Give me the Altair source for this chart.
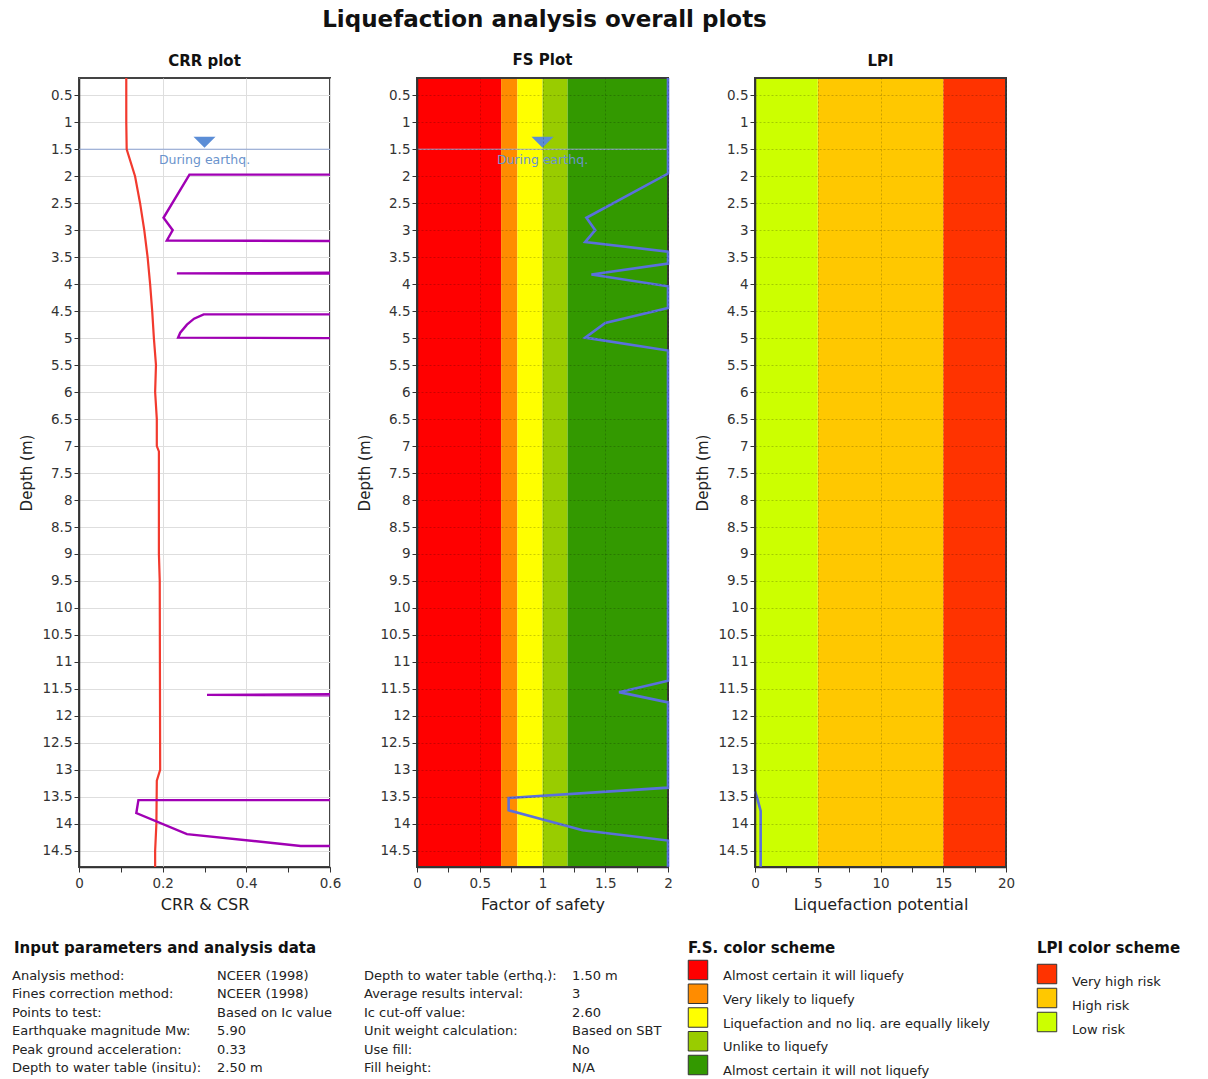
import altair as alt
import pandas as pd

FONT = "DejaVu Sans"

# ---------------- data ----------------
depth_ticks = [0.5, 1, 1.5, 2, 2.5, 3, 3.5, 4, 4.5, 5, 5.5, 6, 6.5, 7, 7.5, 8, 8.5,
               9, 9.5, 10, 10.5, 11, 11.5, 12, 12.5, 13, 13.5, 14, 14.5]
depth_domain = [0.18, 14.8]

# CSR (red line, CRR plot)
csr_depth = [0.18, 1.0, 1.5, 2.0, 2.5, 3.0, 3.5, 4.0, 4.5, 5.0, 5.5, 6.0, 6.5, 7.0,
             7.1, 9.0, 9.5, 13.0, 13.2, 14.0, 14.5, 14.8]
csr_value = [0.113, 0.113, 0.114, 0.134, 0.146, 0.156, 0.164, 0.170, 0.175, 0.179,
             0.184, 0.182, 0.186, 0.186, 0.191, 0.191, 0.193, 0.194, 0.186, 0.185,
             0.182, 0.182]

# CRR (purple line): visible pieces, each entering/leaving at the 0.6 edge
crr_segment = [1, 1, 1, 1, 1, 1,
               2, 2, 2,
               3, 3, 3, 3, 3, 3, 3,
               4, 4, 4,
               5, 5, 5, 5, 5, 5]
crr_depth = [1.97, 1.97, 2.77, 3.00, 3.19, 3.20,
             3.79, 3.80, 3.81,
             4.56, 4.56, 4.64, 4.75, 4.90, 4.99, 5.00,
             11.60, 11.61, 11.62,
             13.56, 13.56, 13.80, 14.19, 14.41, 14.41]
crr_value = [0.60, 0.264, 0.202, 0.224, 0.210, 0.60,
             0.60, 0.234, 0.60,
             0.60, 0.298, 0.275, 0.258, 0.242, 0.237, 0.60,
             0.60, 0.306, 0.60,
             0.60, 0.142, 0.137, 0.258, 0.530, 0.60]

# Factor of safety (blue line, capped at 2)
fs_depth = [0.18, 1.95, 2.77, 3.00, 3.22, 3.40, 3.62, 3.82, 4.04, 4.44, 4.72, 4.99,
            5.23, 11.35, 11.56, 11.75, 13.33, 13.52, 13.75, 14.12, 14.31, 14.80]
fs_value = [2, 2, 1.35, 1.42, 1.34, 2, 2, 1.39, 2, 2, 1.50, 1.34, 2, 2, 1.61, 2, 2,
            0.73, 0.73, 1.32, 2, 2]

# Liquefaction potential index (zero above 13.4 m)
lpi_depth = [13.40, 13.50, 13.76, 14.80]
lpi_value = [0, 0.15, 0.45, 0.45]

water_table_depth = [1.5]
water_label = ["During earthq."]
crr_marker_x = [0.3]
fs_marker_x = [1.0]

crr_ticks = [0, 0.1, 0.2, 0.3, 0.4, 0.5, 0.6]
crr_major = [0, 0.2, 0.4, 0.6]
fs_ticks = [0, 0.25, 0.5, 0.75, 1, 1.25, 1.5, 1.75, 2]
fs_major = [0, 0.5, 1, 1.5, 2]
lpi_ticks = [0, 2.5, 5, 7.5, 10, 12.5, 15, 17.5, 20]
lpi_major = [0, 5, 10, 15, 20]

fs_classes = ["Almost certain it will liquefy", "Very likely to liquefy",
              "Liquefaction and no liq. are equally likely", "Unlike to liquefy",
              "Almost certain it will not liquefy"]
fs_lo = [0, 0.67, 0.8, 1.0, 1.2]
fs_hi = [0.67, 0.8, 1.0, 1.2, 2.0]
fs_colors = ["#ff0000", "#ff8c00", "#ffff00", "#99cc00", "#339900"]

lpi_classes = ["Very high risk", "High risk", "Low risk"]
lpi_lo = [15, 5, 0]
lpi_hi = [20, 15, 5]
lpi_colors = ["#ff3300", "#ffc800", "#ccff00"]

param_names_1 = ["Analysis method:", "Fines correction method:", "Points to test:",
                 "Earthquake magnitude Mw:", "Peak ground acceleration:",
                 "Depth to water table (insitu):"]
param_values_1 = ["NCEER (1998)", "NCEER (1998)", "Based on Ic value", "5.90", "0.33",
                  "2.50 m"]
param_names_2 = ["Depth to water table (erthq.):", "Average results interval:",
                 "Ic cut-off value:", "Unit weight calculation:", "Use fill:",
                 "Fill height:"]
param_values_2 = ["1.50 m", "3", "2.60", "Based on SBT", "No", "N/A"]

# ---------------- styling helpers ----------------
PLOT_W, PLOT_H = 251, 789
TRI = "M-1,-0.5L1,-0.5L0,0.5Z"
LABEL_SIZE = 13.5

yscale = alt.Scale(domain=depth_domain, reverse=True, nice=False, zero=False)


def y_axis(on_top):
    kw = dict(gridColor="#000000", gridOpacity=0.2, gridDash=[2, 2], zindex=1) if on_top \
        else dict(gridColor="#dedede", gridOpacity=1)
    return alt.Axis(values=depth_ticks, format="~g", title="Depth (m)", grid=True,
                    labelFont=FONT, labelFontSize=LABEL_SIZE, labelColor="#333",
                    titleFont=FONT, titleFontSize=15, titleFontWeight="normal",
                    titleColor="#222", titlePadding=7, tickColor="#333", tickSize=5,
                    domainColor="#333", domainWidth=1.5, labelPadding=2, **kw)


def x_axis(title, ticks, major, on_top):
    test = f"indexof({major}, datum.value) >= 0"
    kw = dict(gridColor="#000000", gridDash=[2, 2], zindex=1,
              gridOpacity={"condition": {"test": test, "value": 0.2}, "value": 0}) if on_top \
        else dict(gridColor="#dedede",
                  gridOpacity={"condition": {"test": test, "value": 1}, "value": 0})
    return alt.Axis(values=ticks, title=title, grid=True, labelFlush=False,
                    labelExpr=f"{test} ? format(datum.value, '~g') : ''",
                    labelFont=FONT, labelFontSize=LABEL_SIZE, labelColor="#333",
                    titleFont=FONT, titleFontSize=16, titleFontWeight="normal",
                    titleColor="#222", titlePadding=7, tickColor="#333", tickSize=5,
                    domainColor="#333", domainWidth=1.5, labelPadding=4, **kw)


def panel_title(text, dy=0):
    return alt.Title(text, font=FONT, fontSize=15, fontWeight="bold", color="#111",
                     offset=5, dy=dy)


view_box = alt.ViewBackground(stroke="#444", strokeWidth=2)


def frame():
    return alt.Chart(pd.DataFrame({"f": [0]})).mark_rect(
        filled=False, stroke="#3a3a3a", strokeWidth=2).encode(
        x=alt.value(0), x2=alt.value("width"), y=alt.value(0), y2=alt.value("height"))


# ---------------- CRR plot ----------------
crr_xs = alt.Scale(domain=[0, 0.6], nice=False, zero=False)
crr_xa = x_axis("CRR & CSR", crr_ticks, crr_major, False)
crr_ya = y_axis(False)
X_crr = alt.X("x:Q", scale=crr_xs, axis=crr_xa)
Y_crr = alt.Y("depth:Q", scale=yscale, axis=crr_ya)

csr_df = pd.DataFrame({"depth": csr_depth, "x": csr_value})
crr_df = pd.DataFrame({"seg": crr_segment, "depth": crr_depth, "x": crr_value,
                       "i": list(range(len(crr_depth)))})
wt_crr_df = pd.DataFrame({"depth": water_table_depth, "x": crr_marker_x,
                          "label": water_label})

csr_line = alt.Chart(csr_df).mark_line(color="#f23a2e", strokeWidth=2.2).encode(
    x=X_crr, y=Y_crr, order=alt.Order("depth:Q"))
crr_line = alt.Chart(crr_df).mark_line(color="#a000b4", strokeWidth=2.4).encode(
    x=X_crr, y=Y_crr, detail="seg:N", order=alt.Order("i:Q"))
wt_rule_crr = alt.Chart(wt_crr_df).mark_rule(color="#8ea5d6", strokeWidth=1).encode(y=Y_crr)
wt_tri_crr = alt.Chart(wt_crr_df).mark_point(shape=TRI, filled=True, size=484, opacity=1,
                                             color="#5b8dd6", yOffset=-7).encode(x=X_crr, y=Y_crr)
wt_txt_crr = alt.Chart(wt_crr_df).mark_text(dy=11, font=FONT, fontSize=12.5,
                                            color="#6a93cc").encode(x=X_crr, y=Y_crr, text="label:N")

crr_panel = alt.layer(wt_rule_crr, csr_line, crr_line, wt_tri_crr, wt_txt_crr).properties(
    width=PLOT_W, height=PLOT_H, title=panel_title("CRR plot"), view=view_box)

# ---------------- FS plot ----------------
fs_xs = alt.Scale(domain=[0, 2], nice=False, zero=False)
fs_xa = x_axis("Factor of safety", fs_ticks, fs_major, True)
fs_ya = y_axis(True)
X_fs = alt.X("x:Q", scale=fs_xs, axis=fs_xa)
Y_fs = alt.Y("depth:Q", scale=yscale, axis=fs_ya)

fs_band_df = pd.DataFrame({"x": fs_lo, "x2": fs_hi, "cls": fs_classes})
fs_df = pd.DataFrame({"depth": fs_depth, "x": fs_value})
wt_fs_df = pd.DataFrame({"depth": water_table_depth, "x": fs_marker_x, "label": water_label})

fs_bands = alt.Chart(fs_band_df).mark_rect().encode(
    x=X_fs, x2="x2:Q",
    color=alt.Color("cls:N", scale=alt.Scale(domain=fs_classes, range=fs_colors), legend=None))
fs_line = alt.Chart(fs_df).mark_line(color="#5a70dc", strokeWidth=2.6).encode(
    x=X_fs, y=Y_fs, order=alt.Order("depth:Q"))
wt_rule_fs = alt.Chart(wt_fs_df).mark_rule(color="#9fb3e0", strokeWidth=1).encode(y=Y_fs)
wt_tri_fs = alt.Chart(wt_fs_df).mark_point(shape=TRI, filled=True, size=484, opacity=1,
                                           color="#5b8dd6", yOffset=-7).encode(x=X_fs, y=Y_fs)
wt_txt_fs = alt.Chart(wt_fs_df).mark_text(dy=11, font=FONT, fontSize=12.5,
                                          color="#6a93cc").encode(x=X_fs, y=Y_fs, text="label:N")

fs_panel = alt.layer(fs_bands, frame(), wt_rule_fs, fs_line, wt_tri_fs, wt_txt_fs).properties(
    width=PLOT_W, height=PLOT_H, title=panel_title("FS Plot"), view=view_box)

# ---------------- LPI plot ----------------
lpi_xs = alt.Scale(domain=[0, 20], nice=False, zero=False)
lpi_xa = x_axis("Liquefaction potential", lpi_ticks, lpi_major, True)
lpi_ya = y_axis(True)
X_lpi = alt.X("x:Q", scale=lpi_xs, axis=lpi_xa)
Y_lpi = alt.Y("depth:Q", scale=yscale, axis=lpi_ya)

lpi_band_df = pd.DataFrame({"x": lpi_lo, "x2": lpi_hi, "cls": lpi_classes})
lpi_df = pd.DataFrame({"depth": lpi_depth, "x": lpi_value})

lpi_bands = alt.Chart(lpi_band_df).mark_rect().encode(
    x=X_lpi, x2="x2:Q",
    color=alt.Color("cls:N", scale=alt.Scale(domain=lpi_classes, range=lpi_colors), legend=None))
lpi_line = alt.Chart(lpi_df).mark_line(color="#5a70dc", strokeWidth=2.6).encode(
    x=X_lpi, y=Y_lpi, order=alt.Order("depth:Q"))

lpi_panel = alt.layer(lpi_bands, frame(), lpi_line).properties(
    width=PLOT_W, height=PLOT_H, title=panel_title("LPI", dy=-3), view=view_box)

top_row = alt.hconcat(crr_panel, fs_panel, lpi_panel, spacing=87, bounds="flush").resolve_scale(
    color="independent")

# ---------------- bottom: parameters ----------------
params_df = pd.DataFrame({"row": list(range(6)), "n1": param_names_1, "v1": param_values_1,
                          "n2": param_names_2, "v2": param_values_2})
prow = alt.Scale(type="point", domain=list(range(6)), range=[35, 127], padding=0)


def heading(text, xpos=0):
    return alt.Chart(pd.DataFrame({"t": [text]})).mark_text(
        align="left", baseline="top", font=FONT, fontWeight="bold", fontSize=15,
        color="#111").encode(x=alt.value(xpos), y=alt.value(0), text="t:N")


# the parameter table starts left of the plot origin, under the depth axis
param_layers = [heading("Input parameters and analysis data", -65)]
for field, xpos in [("n1", -67), ("v1", 138), ("n2", 285), ("v2", 493)]:
    param_layers.append(alt.Chart(params_df).mark_text(
        align="left", baseline="middle", font=FONT, fontSize=13, color="#222").encode(
        x=alt.value(xpos), y=alt.Y("row:O", scale=prow, axis=None), text=f"{field}:N"))
params_panel = alt.layer(*param_layers).properties(width=595, height=130)

# ---------------- bottom: F.S. colour scheme ----------------
fsleg_df = pd.DataFrame({"row": list(range(5)), "cls": fs_classes})
frow = alt.Scale(type="point", domain=list(range(5)), range=[29, 124], padding=0)
fs_sq = alt.Chart(fsleg_df).mark_square(size=380, opacity=1, stroke="#333",
                                        strokeWidth=1).encode(
    x=alt.value(10), y=alt.Y("row:O", scale=frow, axis=None),
    color=alt.Color("cls:N", scale=alt.Scale(domain=fs_classes, range=fs_colors), legend=None))
fs_tx = alt.Chart(fsleg_df).mark_text(align="left", baseline="middle", dy=6, font=FONT,
                                      fontSize=13, color="#222").encode(
    x=alt.value(35), y=alt.Y("row:O", scale=frow, axis=None), text="cls:N")
fs_leg_panel = alt.layer(heading("F.S. color scheme"), fs_sq, fs_tx).properties(
    width=335, height=128)

# ---------------- bottom: LPI colour scheme ----------------
lpileg_df = pd.DataFrame({"row": list(range(3)), "cls": lpi_classes})
lrow = alt.Scale(type="point", domain=list(range(3)), range=[33, 81], padding=0)
lpi_sq = alt.Chart(lpileg_df).mark_square(size=380, opacity=1, stroke="#333",
                                          strokeWidth=1).encode(
    x=alt.value(10), y=alt.Y("row:O", scale=lrow, axis=None),
    color=alt.Color("cls:N", scale=alt.Scale(domain=lpi_classes, range=lpi_colors), legend=None))
lpi_tx = alt.Chart(lpileg_df).mark_text(align="left", baseline="middle", dy=8, font=FONT,
                                        fontSize=13, color="#222").encode(
    x=alt.value(35), y=alt.Y("row:O", scale=lrow, axis=None), text="cls:N")
lpi_leg_panel = alt.layer(heading("LPI color scheme"), lpi_sq, lpi_tx).properties(
    width=150, height=100)

bottom_row = alt.hconcat(params_panel, fs_leg_panel, lpi_leg_panel, spacing=10).resolve_scale(
    color="independent")

chart = alt.concat(
    top_row, bottom_row, columns=1, align="none", spacing=26,
    title=alt.Title("Liquefaction analysis overall plots", font=FONT, fontSize=23,
                    fontWeight="bold", color="#111", anchor="middle", offset=20, dx=-55),
).resolve_scale(color="independent").properties(
    padding={"left": 11, "top": 8, "right": 5, "bottom": 2}, background="white"
).configure_view(stroke="transparent")

chart.save("out.html", embed_options={"renderer": "svg", "actions": False})
